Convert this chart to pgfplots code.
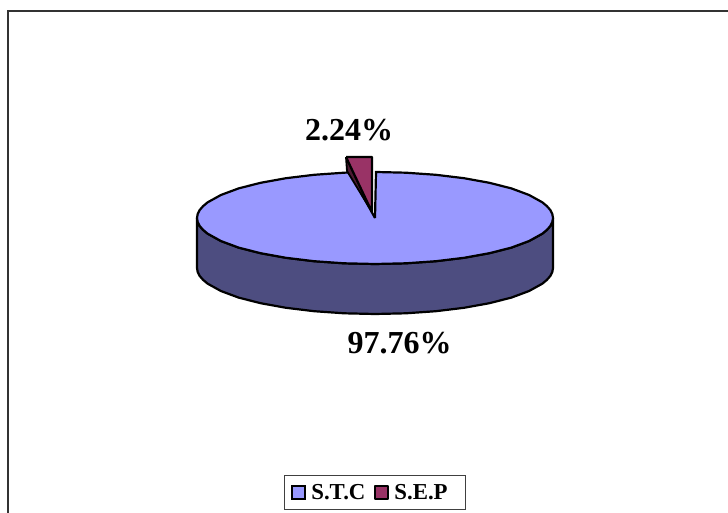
\documentclass[border=0pt]{standalone}
\usepackage{fontspec}
\setmainfont{Liberation Serif}
\usepackage{pgfplots}
\pgfplotsset{compat=1.18}
\definecolor{stc}{HTML}{9999FF}
\definecolor{stcside}{HTML}{4D4D80}
\definecolor{sep}{HTML}{993366}
\definecolor{sepside}{HTML}{4D1A33}
\begin{document}
\begin{tikzpicture}
\begin{axis}[
  scale only axis, width=728pt, height=513pt,
  xmin=0, xmax=728, ymin=0, ymax=513, y dir=reverse,
  hide axis,
  legend columns=2,
  legend cell align=left,
  legend style={at={(axis cs:375,492.5)}, anchor=center, draw=black!75, line width=1.2pt,
    font=\fontsize{22.8}{26}\selectfont\bfseries,
    inner xsep=6.5pt, inner ysep=6.5pt,
    /tikz/every odd column/.style={column sep=3pt},
    /tikz/every even column/.style={column sep=7pt}},
  legend image code/.code={\draw[#1, line width=2pt, draw=black] (0pt,-6.5pt) rectangle (13pt,6.5pt);},
]
% frame
\addplot[forget plot, black!80, line width=1.6pt] coordinates {(8,513) (8,11) (728,11)};
% side wall of the pie
\addplot[forget plot, fill=stcside, draw=black, line width=2.2pt, line join=round] coordinates {
 (197,218) (197.7,222) (199.7,226) (203.1,229.9) (207.7,233.7) (220.9,241) (238.6,247.6) (260.6,253.2) (286,257.8) (314.1,261.2) (344.1,263.3) (375,264)
 (405.9,263.3) (435.9,261.2) (464,257.8) (489.4,253.2) (511.4,247.6) (529.1,241) (542.3,233.7) (546.9,229.9) (550.3,226) (552.3,222) (553,218)
 (553,268) (552.3,272) (550.3,276) (546.9,279.9) (542.3,283.7) (529.1,291) (511.4,297.6) (489.4,303.2) (464,307.8) (435.9,311.2) (405.9,313.3) (375,314)
 (344.1,313.3) (314.1,311.2) (286,307.8) (260.6,303.2) (238.6,297.6) (220.9,291) (207.7,283.7) (203.1,279.9) (199.7,276) (197.7,272) (197,268)
 (197,218)};
% top face, S.T.C
\addplot[fill=stc, draw=black, line width=2.2pt, line join=miter] coordinates {
 (375,218) (376,172) (405.9,172.7) (435.9,174.8) (464,178.2) (489.4,182.8) (511.4,188.4) (529.1,195) (542.3,202.3) (546.9,206.1) (550.3,210) (552.3,214) (553,218)
 (552.3,222) (550.3,226) (546.9,229.9) (542.3,233.7) (529.1,241) (511.4,247.6) (489.4,253.2) (464,257.8) (435.9,261.2) (405.9,263.3) (375,264)
 (344.1,263.3) (314.1,261.2) (286,257.8) (260.6,253.2) (238.6,247.6) (220.9,241) (207.7,233.7) (203.1,229.9) (199.7,226) (197.7,222) (197,218)
 (197.7,214) (199.7,210) (203.1,206.1) (207.7,202.3) (220.9,195) (238.6,188.4) (260.6,182.8) (286,178.2) (314.1,174.8) (344.1,172.7) (350,172.4) (375,218)};
% slice side
\addplot[forget plot, fill=sepside, draw=black, line width=1.8pt, line join=round] coordinates {
 (346,157) (347,171) (372,212) (346,157)};
% slice top, S.E.P
\addplot[fill=sep, draw=black, line width=2.2pt, line join=round] coordinates {
 (346,157) (372,157) (372,212) (346,157)};
\addlegendentry{S.T.C}
\addlegendentry{S.E.P\rule{9pt}{0pt}}
\node[font=\fontsize{32}{34}\selectfont\bfseries, anchor=center] at (axis cs:349,130) {2.24\%};
\node[font=\fontsize{32}{34}\selectfont\bfseries, anchor=center] at (axis cs:399.5,343) {97.76\%};
\end{axis}
\pgfresetboundingbox
\useasboundingbox (current axis.south west) rectangle (current axis.north east);
\end{tikzpicture}
\end{document}
